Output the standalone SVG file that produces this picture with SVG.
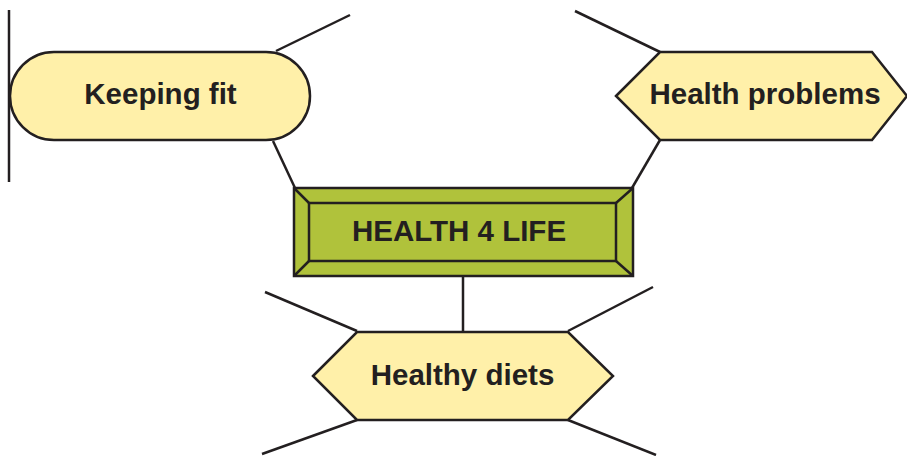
<svg xmlns="http://www.w3.org/2000/svg" width="907" height="456" viewBox="0 0 907 456">
<style>
.ln{stroke:#231f20;stroke-width:2.5;fill:none;stroke-linecap:butt}
.yl{fill:#fff0a9;stroke:#231f20;stroke-width:2.5;stroke-linejoin:miter}
.gr{fill:#b0c23b;stroke:#231f20;stroke-width:2.5}
.t{font-family:"Liberation Sans",Arial,sans-serif;font-weight:bold;font-size:29.5px;fill:#231f20;text-anchor:middle}
</style>
<rect width="907" height="456" fill="#fff"/>
<g id="connectors">
<line class="ln" x1="9" y1="10" x2="9" y2="182"/>
<line class="ln" x1="276" y1="51" x2="350" y2="15"/>
<line class="ln" x1="273" y1="141" x2="295" y2="188"/>
<line class="ln" x1="660" y1="52" x2="575" y2="11"/>
<line class="ln" x1="660" y1="140" x2="632" y2="188"/>
<line class="ln" x1="463" y1="277" x2="463" y2="332"/>
<line class="ln" x1="357" y1="331" x2="265" y2="292"/>
<line class="ln" x1="568" y1="331" x2="653" y2="287"/>
<line class="ln" x1="357" y1="420" x2="262" y2="454"/>
<line class="ln" x1="568" y1="420" x2="656" y2="455"/>
</g>
<g id="keeping-fit">
<rect class="yl" x="10" y="52" width="300" height="88" rx="44" ry="44"/>
<text class="t" x="160.5" y="104">Keeping fit</text>
</g>
<g id="health-problems">
<polygon class="yl" points="616,96 660,52 872,52 907,96 872,140 660,140"/>
<text class="t" x="765" y="104">Health problems</text>
</g>
<g id="health-4-life">
<rect class="gr" x="294" y="188" width="339" height="88"/>
<rect class="gr" x="309" y="203" width="307" height="58"/>
<line class="ln" x1="294" y1="188" x2="309" y2="203"/>
<line class="ln" x1="633" y1="188" x2="616" y2="203"/>
<line class="ln" x1="294" y1="276" x2="309" y2="261"/>
<line class="ln" x1="633" y1="276" x2="616" y2="261"/>
<text class="t" x="459" y="241">HEALTH 4 LIFE</text>
</g>
<g id="healthy-diets">
<polygon class="yl" points="313,376 357,332 568,332 613,376 568,420 357,420"/>
<text class="t" x="462.5" y="385">Healthy diets</text>
</g>
</svg>
